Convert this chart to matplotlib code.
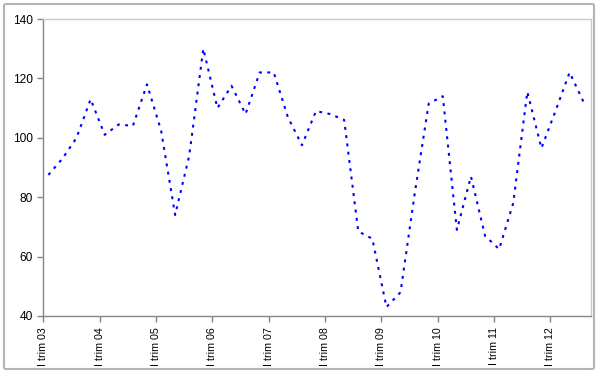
import matplotlib
matplotlib.use("Agg")
import matplotlib.pyplot as plt
import matplotlib.transforms as mtransforms
from matplotlib.patches import FancyBboxPatch

# Quarterly series, I trim 03 .. III trim 12
values = [87.5, 93, 100, 113, 101, 104.5, 104, 118, 102.5, 74,
          94, 130, 110, 117.5, 108, 122, 122, 107, 97.5, 109,
          108, 106, 68.5, 66, 43, 48, 81, 111.5, 114, 69,
          87, 67, 62.5, 78, 115.5, 96.5, 109, 122, 112]
tick_labels = ["I trim 03", "I trim 04", "I trim 05", "I trim 06", "I trim 07",
               "I trim 08", "I trim 09", "I trim 10", "I trim 11", "I trim 12"]
y_ticks = [40, 60, 80, 100, 120, 140]

plt.rcParams['font.family'] = ['Liberation Sans', 'DejaVu Sans']

fig = plt.figure(figsize=(6.0, 3.73), dpi=100)
# outer chart border
border = FancyBboxPatch((4/600, 4/373), 590/600, 365/373,
                        boxstyle="round,pad=0,rounding_size=0.004",
                        transform=fig.transFigure, fill=False,
                        edgecolor="#b4b4b4", linewidth=1.5)
fig.patches.append(border)

ax = fig.add_axes([43.3/600, 1 - 316/373, (590.7 - 43.3)/600, (316 - 19)/373])

x = list(range(len(values)))
ax.plot(x, values, color="#0000FF", linewidth=1.5,
        linestyle=(0, (1.4, 2.6)))

ax.set_xlim(-0.36, len(values) - 0.5)
ax.set_ylim(40, 140)
ax.set_yticks(y_ticks)
ax.set_yticklabels([str(v) for v in y_ticks], fontsize=8.6)
ax.set_xticks([4 * k - 0.36 for k in range(len(tick_labels))])
ax.set_xticklabels(tick_labels, rotation=90, fontsize=7.7)

offset = mtransforms.ScaledTranslation(2/100, 0, fig.dpi_scale_trans)
for lbl in ax.get_xticklabels():
    lbl.set_transform(lbl.get_transform() + offset)

for side in ("left", "bottom"):
    ax.spines[side].set_color("#868686")
    ax.spines[side].set_linewidth(1.0)
for side in ("top", "right"):
    ax.spines[side].set_color("#c8c8c8")
    ax.spines[side].set_linewidth(1.0)

ax.tick_params(axis="both", direction="out", length=4.5, width=1.0,
               color="#868686", labelcolor="black")
ax.tick_params(axis="y", pad=3)
ax.tick_params(axis="x", pad=3.5)

fig.savefig("out.png", dpi=100)
